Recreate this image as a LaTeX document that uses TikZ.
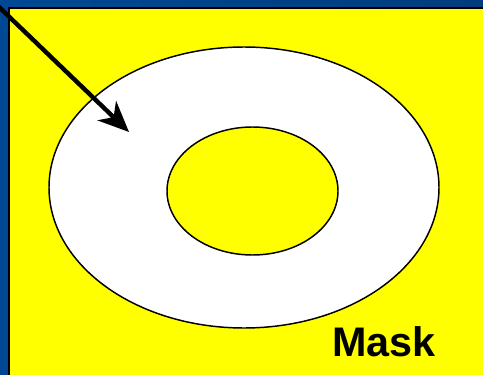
\documentclass[tikz,border=0pt]{standalone}
\usepackage{fontspec}
\setmainfont{Liberation Sans}
\usetikzlibrary{
    arrows.meta,                      % Stealth
    shapes.geometric                  % ellipse
}
\definecolor{slide_blue}{RGB}{0,72,148}
\definecolor{slide_blue_dark}{RGB}{0,60,124}
\definecolor{mask_yellow}{RGB}{255,255,0}
\tikzset{
    ring/.style={
        ellipse, draw, line width=1.1pt, inner sep=0pt
    },
    pointer/.style={
        -{Stealth[length=23pt, width=20pt, inset=7pt]}, line width=3.3pt
    },
    caption/.style={
        font=\fontsize{31}{37}\selectfont\bfseries, inner sep=0pt
    }
}

\begin{document}
\begin{tikzpicture}[x=0.75pt, y=-0.75pt]

        % Fondo de la diapositiva
        \useasboundingbox (0,0) rectangle (483,375);
        \fill[slide_blue] (0,0) rectangle (483,375);
        \shade[left color=slide_blue, right color=slide_blue_dark] (0,0) rectangle (483,8);

        % Zona amarilla
        \filldraw[fill=mask_yellow, draw=black, line width=1.5pt] (9,8) rectangle (486,378);

        % Anillo
        \node[ring, fill=white, minimum width=390pt*0.75, minimum height=281pt*0.75]
            (outer) at (244,187.5) {};
        \node[ring, fill=mask_yellow, minimum width=171pt*0.75, minimum height=128pt*0.75]
            (inner) at (252.5,191) {};

        % Flecha
        \coordinate (start) at (-2,6);
        \coordinate (tip) at (129,132);
        \draw[pointer] (start) -- (tip);

        % Etiqueta
        \node[caption] (mask) at (384,342) {Mask};

    \end{tikzpicture}
\end{document}
